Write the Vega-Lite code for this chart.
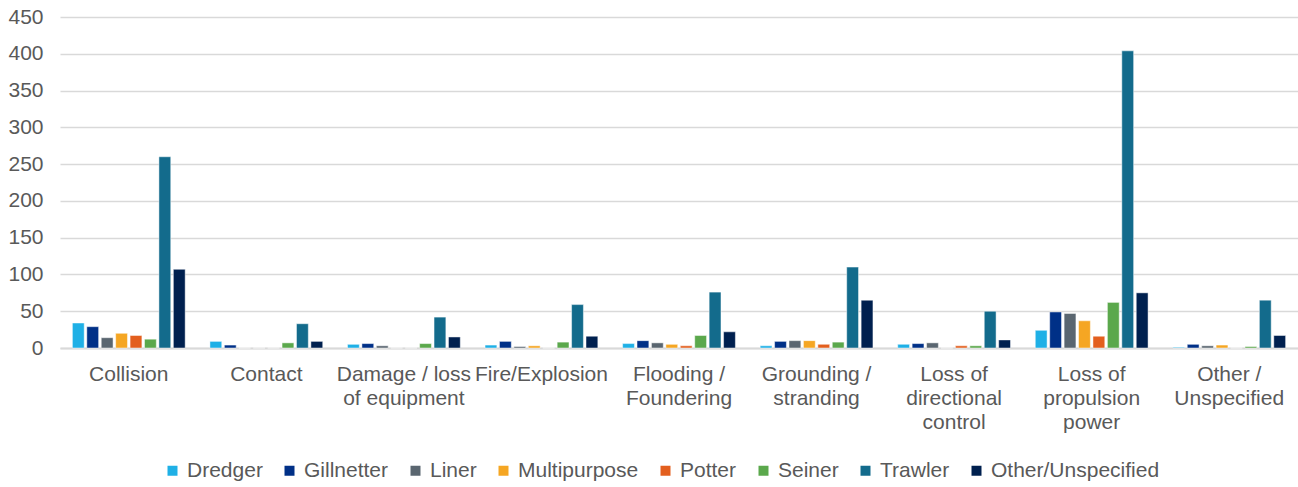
{
  "$schema": "https://vega.github.io/schema/vega-lite/v6.json",
  "autosize": {"type": "none"},
  "padding": {"left": 60, "top": 17, "right": 0, "bottom": 139},
  "width": 1238,
  "height": 331,
  "background": "white",
  "config": {
    "view": {"stroke": null},
    "font": "Liberation Sans",
    "axis": {"labelFont": "Liberation Sans", "labelColor": "#595959"},
    "legend": {"labelFont": "Liberation Sans", "labelColor": "#595959"}
  },
  "data": {
    "values": [
      {"cause": "Collision", "type": "Dredger", "count": 34},
      {"cause": "Collision", "type": "Gillnetter", "count": 29},
      {"cause": "Collision", "type": "Liner", "count": 14},
      {"cause": "Collision", "type": "Multipurpose", "count": 20},
      {"cause": "Collision", "type": "Potter", "count": 17},
      {"cause": "Collision", "type": "Seiner", "count": 12},
      {"cause": "Collision", "type": "Trawler", "count": 260},
      {"cause": "Collision", "type": "Other/Unspecified", "count": 107},
      {"cause": "Contact", "type": "Dredger", "count": 9},
      {"cause": "Contact", "type": "Gillnetter", "count": 4},
      {"cause": "Contact", "type": "Liner", "count": 0},
      {"cause": "Contact", "type": "Multipurpose", "count": 0},
      {"cause": "Contact", "type": "Potter", "count": 0},
      {"cause": "Contact", "type": "Seiner", "count": 7},
      {"cause": "Contact", "type": "Trawler", "count": 33},
      {"cause": "Contact", "type": "Other/Unspecified", "count": 9},
      {"cause": "Damage / loss of equipment", "type": "Dredger", "count": 5},
      {"cause": "Damage / loss of equipment", "type": "Gillnetter", "count": 6},
      {"cause": "Damage / loss of equipment", "type": "Liner", "count": 3},
      {"cause": "Damage / loss of equipment", "type": "Multipurpose", "count": 0},
      {"cause": "Damage / loss of equipment", "type": "Potter", "count": 0},
      {"cause": "Damage / loss of equipment", "type": "Seiner", "count": 6},
      {"cause": "Damage / loss of equipment", "type": "Trawler", "count": 42},
      {"cause": "Damage / loss of equipment", "type": "Other/Unspecified", "count": 15},
      {"cause": "Fire/Explosion", "type": "Dredger", "count": 4},
      {"cause": "Fire/Explosion", "type": "Gillnetter", "count": 9},
      {"cause": "Fire/Explosion", "type": "Liner", "count": 2},
      {"cause": "Fire/Explosion", "type": "Multipurpose", "count": 3},
      {"cause": "Fire/Explosion", "type": "Potter", "count": 0},
      {"cause": "Fire/Explosion", "type": "Seiner", "count": 8},
      {"cause": "Fire/Explosion", "type": "Trawler", "count": 59},
      {"cause": "Fire/Explosion", "type": "Other/Unspecified", "count": 16},
      {"cause": "Flooding / Foundering", "type": "Dredger", "count": 6},
      {"cause": "Flooding / Foundering", "type": "Gillnetter", "count": 10},
      {"cause": "Flooding / Foundering", "type": "Liner", "count": 7},
      {"cause": "Flooding / Foundering", "type": "Multipurpose", "count": 5},
      {"cause": "Flooding / Foundering", "type": "Potter", "count": 3},
      {"cause": "Flooding / Foundering", "type": "Seiner", "count": 17},
      {"cause": "Flooding / Foundering", "type": "Trawler", "count": 76},
      {"cause": "Flooding / Foundering", "type": "Other/Unspecified", "count": 22},
      {"cause": "Grounding / stranding", "type": "Dredger", "count": 3},
      {"cause": "Grounding / stranding", "type": "Gillnetter", "count": 9},
      {"cause": "Grounding / stranding", "type": "Liner", "count": 10},
      {"cause": "Grounding / stranding", "type": "Multipurpose", "count": 10},
      {"cause": "Grounding / stranding", "type": "Potter", "count": 5},
      {"cause": "Grounding / stranding", "type": "Seiner", "count": 8},
      {"cause": "Grounding / stranding", "type": "Trawler", "count": 110},
      {"cause": "Grounding / stranding", "type": "Other/Unspecified", "count": 65},
      {"cause": "Loss of directional control", "type": "Dredger", "count": 5},
      {"cause": "Loss of directional control", "type": "Gillnetter", "count": 6},
      {"cause": "Loss of directional control", "type": "Liner", "count": 7},
      {"cause": "Loss of directional control", "type": "Multipurpose", "count": 0},
      {"cause": "Loss of directional control", "type": "Potter", "count": 3},
      {"cause": "Loss of directional control", "type": "Seiner", "count": 3},
      {"cause": "Loss of directional control", "type": "Trawler", "count": 50},
      {"cause": "Loss of directional control", "type": "Other/Unspecified", "count": 11},
      {"cause": "Loss of propulsion power", "type": "Dredger", "count": 24},
      {"cause": "Loss of propulsion power", "type": "Gillnetter", "count": 49},
      {"cause": "Loss of propulsion power", "type": "Liner", "count": 47},
      {"cause": "Loss of propulsion power", "type": "Multipurpose", "count": 37},
      {"cause": "Loss of propulsion power", "type": "Potter", "count": 16},
      {"cause": "Loss of propulsion power", "type": "Seiner", "count": 62},
      {"cause": "Loss of propulsion power", "type": "Trawler", "count": 404},
      {"cause": "Loss of propulsion power", "type": "Other/Unspecified", "count": 75},
      {"cause": "Other / Unspecified", "type": "Dredger", "count": 1},
      {"cause": "Other / Unspecified", "type": "Gillnetter", "count": 5},
      {"cause": "Other / Unspecified", "type": "Liner", "count": 3},
      {"cause": "Other / Unspecified", "type": "Multipurpose", "count": 4},
      {"cause": "Other / Unspecified", "type": "Potter", "count": 0},
      {"cause": "Other / Unspecified", "type": "Seiner", "count": 2},
      {"cause": "Other / Unspecified", "type": "Trawler", "count": 65},
      {"cause": "Other / Unspecified", "type": "Other/Unspecified", "count": 17}
    ]
  },
  "mark": {"type": "bar", "stroke": "white", "strokeWidth": 0.8, "strokeOpacity": 0.6},
  "encoding": {
    "x": {
      "field": "cause",
      "type": "nominal",
      "sort": null,
      "scale": {"paddingInner": 0.18, "paddingOuter": 0.09},
      "axis": {
        "title": null,
        "labelAngle": 0,
        "labelFontSize": 21,
        "labelPadding": 15,
        "labelLineHeight": 24,
        "labelBaseline": "top",
        "ticks": false,
        "domainColor": "#d9d9d9",
        "domainWidth": 2,
        "labelLimit": 0,
        "labelExpr": "datum.label == 'Damage / loss of equipment' ? ['Damage / loss', 'of equipment'] : datum.label == 'Flooding / Foundering' ? ['Flooding /', 'Foundering'] : datum.label == 'Grounding / stranding' ? ['Grounding /', 'stranding'] : datum.label == 'Loss of directional control' ? ['Loss of', 'directional', 'control'] : datum.label == 'Loss of propulsion power' ? ['Loss of', 'propulsion', 'power'] : datum.label == 'Other / Unspecified' ? ['Other /', 'Unspecified'] : datum.label"
      }
    },
    "xOffset": {
      "field": "type",
      "type": "nominal",
      "sort": ["Dredger", "Gillnetter", "Liner", "Multipurpose", "Potter", "Seiner", "Trawler", "Other/Unspecified"],
      "scale": {"paddingInner": 0.18, "paddingOuter": 0}
    },
    "y": {
      "field": "count",
      "type": "quantitative",
      "scale": {"domain": [0, 450]},
      "axis": {
        "title": null,
        "values": [0, 50, 100, 150, 200, 250, 300, 350, 400, 450],
        "labelFontSize": 21,
        "labelPadding": 17,
        "ticks": false,
        "domain": false,
        "gridColor": "#d9d9d9",
        "gridWidth": 1.5
      }
    },
    "color": {
      "field": "type",
      "type": "nominal",
      "sort": ["Dredger", "Gillnetter", "Liner", "Multipurpose", "Potter", "Seiner", "Trawler", "Other/Unspecified"],
      "scale": {
        "domain": ["Dredger", "Gillnetter", "Liner", "Multipurpose", "Potter", "Seiner", "Trawler", "Other/Unspecified"],
        "range": ["#1FB0E6", "#003087", "#5A6670", "#F5A623", "#E35F1E", "#5BA84C", "#136B8C", "#00204F"]
      },
      "legend": {
        "title": null,
        "orient": "none",
        "legendX": 102,
        "legendY": 443,
        "direction": "horizontal",
        "symbolType": "square",
        "symbolSize": 100,
        "symbolStrokeWidth": 0,
        "labelFontSize": 21,
        "labelOffset": 4,
        "labelLimit": 0,
        "columnPadding": 16
      }
    }
  }
}
